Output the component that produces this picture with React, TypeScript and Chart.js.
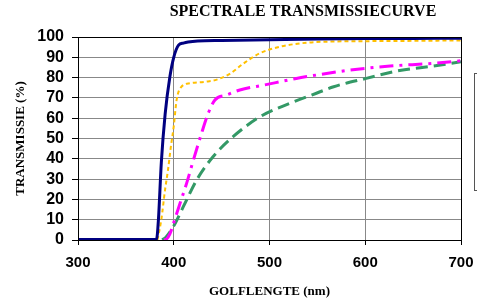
import React, { useEffect, useRef } from "react";
import { Chart, registerables } from "chart.js";

Chart.register(...registerables);

const chartTitle = "SPECTRALE TRANSMISSIECURVE";
const xTitle = "GOLFLENGTE (nm)";
const yTitle = "TRANSMISSIE (%)";

const navyNm = [300, 382, 384, 387, 391, 396, 400, 405, 410, 415, 425, 450, 500, 550, 600, 650, 700];
const navyT = [0.3, 0.3, 10, 38, 62, 80.5, 90, 96, 97, 97.5, 98, 98.3, 98.7, 99, 99.2, 99.3, 99.4];

const orangeNm = [383, 387, 391, 394, 397, 400, 403, 408, 417, 434, 445, 459, 473, 490, 511, 539, 570, 620, 700];
const orangeT = [0, 10, 25, 34.5, 46, 56, 69, 75.5, 77.2, 78, 79, 82, 87, 92, 95.2, 97.2, 97.8, 98, 98.3];

const magentaNm = [390, 392.6, 396, 399.6, 406.5, 413.5, 420.5, 429, 436, 443, 455, 469, 495, 528, 539, 584, 626, 671, 700];
const magentaT = [0, 0.5, 3, 8, 18, 28, 39.4, 52.5, 62.4, 69, 71.4, 73.9, 76.4, 79.6, 80.5, 83.7, 85.7, 87, 88.3];

const greenNm = [388, 392, 399.6, 410, 424, 441, 462, 490, 521, 549, 567, 601, 636, 671, 700];
const greenT = [0, 1.5, 6.6, 16.4, 29.6, 41, 50.9, 60.7, 67.3, 72.3, 75.5, 79.6, 83.5, 85.7, 87.8];

const toPts = (xs: number[], ys: number[]) => xs.map((x, i) => ({ x, y: ys[i] }));

const framePlugin = {
  id: "frame",
  afterDraw(chart: any) {
    const { ctx, chartArea } = chart;
    ctx.save();
    ctx.strokeStyle = "#000";
    ctx.lineWidth = 1;
    ctx.strokeRect(
      Math.round(chartArea.left) + 0.5,
      Math.round(chartArea.top) + 0.5,
      Math.round(chartArea.right - chartArea.left),
      Math.round(chartArea.bottom - chartArea.top)
    );
    // partial legend box at right edge
    ctx.strokeStyle = "#555";
    ctx.strokeRect(474.5, 73.5, 30, 117);
    // title
    ctx.fillStyle = "#000";
    ctx.font = "bold 16px 'Liberation Serif'";
    ctx.textAlign = "center";
    ctx.textBaseline = "middle";
    ctx.fillText(chartTitle, 303, 12);
    ctx.restore();
  },
};

export default function App() {
  const ref = useRef<HTMLCanvasElement | null>(null);
  useEffect(() => {
    if (!ref.current) return;
    const common = { pointRadius: 0, fill: false, cubicInterpolationMode: "monotone" as const };
    const chart = new Chart(ref.current, {
      type: "line",
      data: {
        datasets: [
          { ...common, label: "A", data: toPts(navyNm, navyT), borderColor: "#000080", borderWidth: 3 },
          { ...common, label: "B", data: toPts(orangeNm, orangeT), borderColor: "#FFC000", borderWidth: 2, borderDash: [4, 3] },
          { ...common, label: "C", data: toPts(magentaNm, magentaT), borderColor: "#FF00FF", borderWidth: 3, borderDash: [14, 6, 3, 6] },
          { ...common, label: "D", data: toPts(greenNm, greenT), borderColor: "#339966", borderWidth: 3, borderDash: [12, 6] },
        ],
      },
      options: {
        responsive: false,
        animation: false,
        layout: { padding: { top: 37, right: 16, left: 0, bottom: 0 } },
        plugins: { legend: { display: false }, tooltip: { enabled: false } },
        scales: {
          x: {
            type: "linear",
            min: 300,
            max: 700,
            afterFit: (s: any) => { s.height = 60; s.paddingLeft = 0; s.paddingRight = 0; },
            ticks: { stepSize: 100, autoSkip: false, color: "#000", font: { family: "'Liberation Sans'", size: 15, weight: "bold" }, padding: 9 },
            grid: { color: "#888", tickColor: "#000", tickLength: 5 },
            border: { color: "#000" },
            title: { display: true, text: xTitle, color: "#000", font: { family: "'Liberation Serif'", size: 13, weight: "bold" }, padding: { top: 0, bottom: 1 } },
          },
          y: {
            min: 0,
            max: 100,
            afterFit: (s: any) => { s.width = 78; s.paddingTop = 0; s.paddingBottom = 0; },
            ticks: { stepSize: 10, autoSkip: false, color: "#000", font: { family: "'Liberation Sans'", size: 16, weight: "bold" }, padding: 8 },
            grid: { color: "#888", tickColor: "#000", tickLength: 6 },
            border: { color: "#000" },
            title: { display: true, text: yTitle, color: "#000", font: { family: "'Liberation Serif'", size: 13, weight: "bold" }, padding: { top: 13, bottom: 0 } },
          },
        },
      },
      plugins: [framePlugin],
    });
    return () => chart.destroy();
  }, []);
  return (
    <div style={{ position: "fixed", left: 0, top: 0, width: 477, height: 300, background: "#fff" }}>
      <canvas ref={ref} width={477} height={300} style={{ display: "block", width: 477, height: 300 }} />
    </div>
  );
}
